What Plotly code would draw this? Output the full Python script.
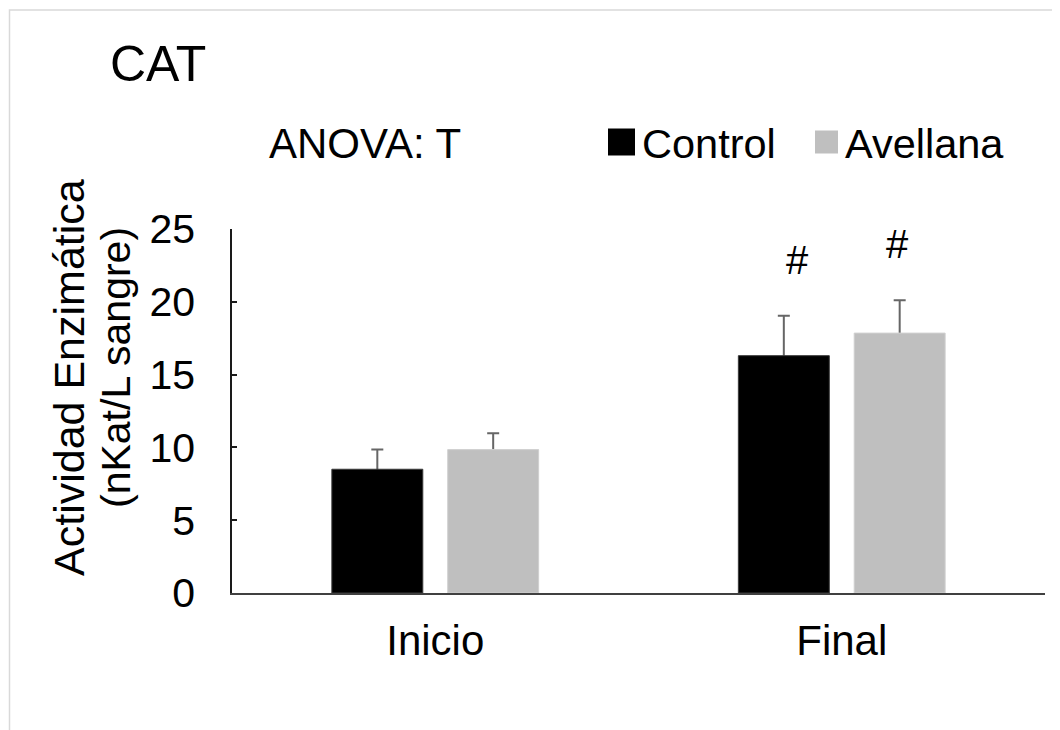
import plotly.graph_objects as go

# ---- data ----
categories = ["Inicio", "Final"]
control_vals = [8.5, 16.3]
control_err = [1.35, 2.75]
avellana_vals = [9.85, 17.85]
avellana_err = [1.12, 2.25]
control_sig = ["", "#"]
avellana_sig = ["", "#"]
series_names = ["Control", "Avellana"]
y_ticks = [0, 5, 10, 15, 20, 25]

FONT = "Liberation Sans, Arial, sans-serif"
W, H = 1060, 730
OFF = 8  # page body margin
ML, MT = 232 - OFF, 229 - OFF
PW, PH = 813, 364
MR, MB = W - ML - PW, H - MT - PH

BARGAP, GROUPGAP = 0.43, 0.215
SLOT = (1 - BARGAP) / 2          # width of one trace slot in category units
OFFS = [-SLOT / 2, SLOT / 2]     # centres of the two bars relative to category


def px(x):
    return (x - OFF - ML) / PW


def py(y):
    return (H - MB - (y - OFF)) / PH


idx = list(range(len(categories)))

fig = go.Figure()
# error bars (drawn underneath the bars, so only the upper half shows)
for k, (vals, errs) in enumerate([(control_vals, control_err), (avellana_vals, avellana_err)]):
    fig.add_trace(go.Scatter(
        x=[i + OFFS[k] for i in idx], y=vals, mode="markers",
        marker=dict(size=1, color="rgba(0,0,0,0)"),
        error_y=dict(type="data", array=errs, color="#666666", thickness=2, width=6),
        xaxis="x", yaxis="y", showlegend=False, hoverinfo="skip",
    ))

fig.add_trace(go.Bar(
    name=series_names[0], x=categories, y=control_vals,
    marker=dict(color="#000000", line=dict(color="#3a3a3a", width=1)),
    xaxis="x2", yaxis="y", showlegend=False,
))
fig.add_trace(go.Bar(
    name=series_names[1], x=categories, y=avellana_vals,
    marker=dict(color="#BFBFBF", line=dict(color="#d0d0d0", width=1)),
    xaxis="x2", yaxis="y", showlegend=False,
))

annotations = []
shapes = []

# significance marks
for k, (vals, errs, sig, xs) in enumerate([(control_vals, control_err, control_sig, 14),
                                           (avellana_vals, avellana_err, avellana_sig, -2)]):
    for i, v, e, s in zip(idx, vals, errs, sig):
        if s:
            annotations.append(dict(x=i + OFFS[k], y=v + e, xref="x", yref="y", text=s,
                                    showarrow=False, xshift=xs, yshift=56, yanchor="middle",
                                    font=dict(family=FONT, size=40, color="#000")))

# title
annotations.append(dict(x=px(158), y=py(64), xref="paper", yref="paper", text="CAT",
                        showarrow=False, xanchor="center", yanchor="middle",
                        font=dict(family=FONT, size=50, color="#000")))
# ANOVA
annotations.append(dict(x=px(365), y=py(143), xref="paper", yref="paper", text="ANOVA: T",
                        showarrow=False, xanchor="center", yanchor="middle",
                        font=dict(family=FONT, size=42, color="#000")))
# y title (two lines)
annotations.append(dict(x=px(69), y=py(378), xref="paper", yref="paper",
                        text="Actividad Enzimática", textangle=-90, showarrow=False,
                        xanchor="center", yanchor="middle",
                        font=dict(family=FONT, size=43, color="#000")))
annotations.append(dict(x=px(116), y=py(367), xref="paper", yref="paper",
                        text="(nKat/L sangre)", textangle=-90, showarrow=False,
                        xanchor="center", yanchor="middle",
                        font=dict(family=FONT, size=41, color="#000")))

# legend (manual, large keys)
leg = [(series_names[0], "#000000", 608, 27, 643), (series_names[1], "#BFBFBF", 815, 23, 846)]
for name, col, sx, sz, tx in leg:
    cy = 142
    shapes.append(dict(type="rect", xref="paper", yref="paper",
                       x0=px(sx), x1=px(sx + sz), y0=py(cy + sz / 2), y1=py(cy - sz / 2),
                       fillcolor=col, line=dict(width=0)))
    annotations.append(dict(x=px(tx - 3), y=py(143), xref="paper", yref="paper", text=name,
                            showarrow=False, xanchor="left", yanchor="middle",
                            font=dict(family=FONT, size=41.5, color="#000")))

# chart-area border (light grey)
shapes.append(dict(type="rect", xref="paper", yref="paper",
                   x0=px(OFF + 1.5), x1=px(1300), y0=py(1000), y1=py(10),
                   line=dict(color="#D9D9D9", width=1.5), fillcolor="rgba(0,0,0,0)", layer="below"))

fig.update_layout(
    width=W, height=H,
    margin=dict(l=ML, r=MR, t=MT, b=MB),
    paper_bgcolor="white", plot_bgcolor="white",
    barmode="group", bargap=BARGAP, bargroupgap=GROUPGAP,
    font=dict(family=FONT, color="#000"),
    annotations=annotations, shapes=shapes,
    showlegend=False,
    xaxis=dict(type="linear", range=[-0.5, len(categories) - 0.5], tickvals=idx,
               ticktext=categories, showline=True, linecolor="#404040", linewidth=2,
               ticks="", showgrid=False, zeroline=False,
               tickfont=dict(family=FONT, size=42, color="#000"), ticklabelstandoff=10),
    xaxis2=dict(type="category", overlaying="x", range=[-0.5, len(categories) - 0.5],
                visible=False),
    yaxis=dict(range=[0, 25], tickvals=y_ticks, showline=True, linecolor="#1a1a1a",
               linewidth=1.5, ticks="inside", ticklen=5, tickcolor="#1a1a1a", tickwidth=1.5,
               showgrid=False, zeroline=False,
               tickfont=dict(family=FONT, size=41, color="#000"), ticklabelstandoff=27),
)

fig.write_html("out.html")
